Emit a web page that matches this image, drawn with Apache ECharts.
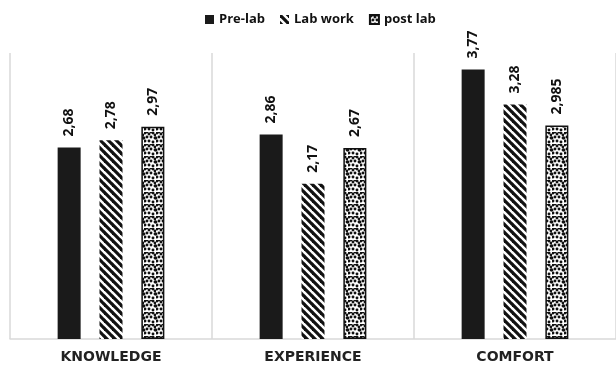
<!DOCTYPE html>
<html>
<head>
<meta charset="utf-8">
<script src="https://cdn.jsdelivr.net/npm/echarts@6/dist/echarts.min.js"></script>
<style>html,body{margin:0;padding:0;background:#fff;}#c{width:616px;height:366px;}</style>
</head>
<body>
<div id="c"></div>
<script>
var categories = ['KNOWLEDGE', 'EXPERIENCE', 'COMFORT'];
var seriesNames = ['Pre-lab', 'Lab work', 'post lab'];
var preLab = [2.68, 2.86, 3.77];
var labWork = [2.78, 2.17, 3.28];
var postLab = [2.97, 2.67, 2.985];

function stripePattern() {
  var s = 8;
  var c = document.createElement('canvas');
  c.width = s; c.height = s;
  var g = c.getContext('2d');
  g.fillStyle = '#fff'; g.fillRect(0, 0, s, s);
  g.strokeStyle = '#111'; g.lineWidth = 3.2;
  [-s, 0, s].forEach(function (o) {
    g.beginPath(); g.moveTo(o - 1, -1); g.lineTo(o + s + 1, s + 1); g.stroke();
  });
  return { image: c, repeat: 'repeat' };
}
function dotPattern() {
  var s = 12;
  var c = document.createElement('canvas');
  c.width = s; c.height = s;
  var g = c.getContext('2d');
  g.fillStyle = '#fff'; g.fillRect(0, 0, s, s);
  g.fillStyle = '#111';
  var pts = [[1,1],[5,2],[9,1],[3,5],[7,5],[11,6],[1,9],[5,9],[9,10],[7,12],[3,12],[11,3],[0,6],[12,6]];
  pts.forEach(function (p) {
    g.beginPath(); g.arc(p[0], p[1] % s, 1.45, 0, Math.PI * 2); g.fill();
  });
  return { image: c, repeat: 'repeat' };
}

var fmt = function (p) { return String(p.value).replace('.', ','); };
var labelOpt = {
  show: true, position: 'top', rotate: 90, align: 'left', verticalAlign: 'middle',
  distance: 11, formatter: fmt, color: '#111', fontWeight: 'bold', fontSize: 14,
  fontFamily: 'Open Sans'
};

var chart = echarts.init(document.getElementById('c'));
chart.setOption({
  animation: false,
  backgroundColor: '#fff',
  legend: {
    top: 8, left: 200, itemWidth: 9, itemHeight: 9, itemGap: 15, icon: 'rect',
    textStyle: { fontWeight: 'bold', fontSize: 13, color: '#111', fontFamily: 'Open Sans' },
    data: seriesNames
  },
  grid: { left: 10, top: 53, width: 609, height: 286 },
  xAxis: {
    type: 'category', data: categories,
    axisLine: { lineStyle: { color: '#d9d9d9', width: 1.5 } },
    axisTick: { show: false },
    splitLine: { show: true, lineStyle: { color: '#d9d9d9', width: 1.5 } },
    axisLabel: { margin: 11, fontWeight: 'bold', fontSize: 14, color: '#222', fontFamily: 'DejaVu Sans' }
  },
  yAxis: { type: 'value', min: 0, max: 4, show: false, splitLine: { show: false } },
  series: [
    { name: seriesNames[0], type: 'bar', data: preLab, barWidth: 23, barGap: '82%',
      itemStyle: { color: '#1a1a1a' }, label: labelOpt },
    { name: seriesNames[1], type: 'bar', data: labWork, barWidth: 23,
      itemStyle: { color: stripePattern() }, label: labelOpt },
    { name: seriesNames[2], type: 'bar', data: postLab, barWidth: 23,
      itemStyle: { color: dotPattern(), borderColor: '#111', borderWidth: 1.5 }, label: labelOpt }
  ]
});
</script>
</body>
</html>
